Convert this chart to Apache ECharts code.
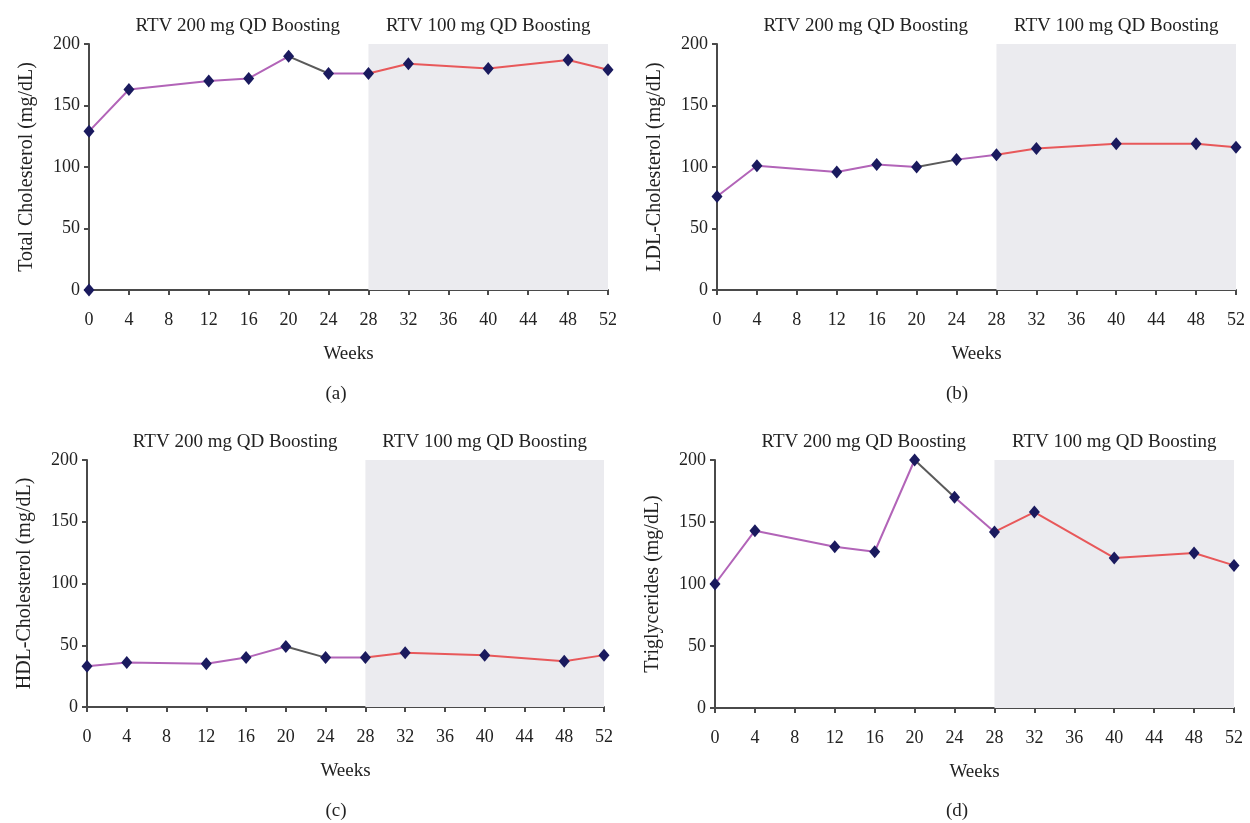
<!DOCTYPE html>
<html>
<head>
<meta charset="utf-8">
<script src="https://cdn.jsdelivr.net/npm/echarts@6/dist/echarts.min.js"></script>
<style>
html,body{margin:0;padding:0;background:#fff;}
#c{width:1250px;height:823px;}
</style>
</head>
<body>
<div id="c"></div>
<script>
// ---- data ----
const weeks = [0, 4, 12, 16, 20, 24, 28, 32, 40, 48, 52];
const totalChol = [129, 163, 170, 172, 190, 176, 176, 184, 180, 187, 179];
const ldlChol   = [76, 101, 96, 102, 100, 106, 110, 115, 119, 119, 116];
const hdlChol   = [33, 36, 35, 40, 49, 40, 40, 44, 42, 37, 42];
const triglyc   = [100, 143, 130, 126, 200, 170, 142, 158, 121, 125, 115];
const extraPointA = [[0, 0]];           // lone marker at origin in panel (a)
const xTicks = [0,4,8,12,16,20,24,28,32,36,40,44,48,52];
const yTicks = [0,50,100,150,200];
const phase1Label = 'RTV 200 mg QD Boosting';
const phase2Label = 'RTV 100 mg QD Boosting';
const phaseStart = 0, phaseSwitch = 28, phaseEnd = 52;
const yTitles = ['Total Cholesterol (mg/dL)', 'LDL-Cholesterol (mg/dL)', 'HDL-Cholesterol (mg/dL)', 'Triglycerides (mg/dL)'];
const panelTags = ['(a)', '(b)', '(c)', '(d)'];
const xTitle = 'Weeks';
// segment week ranges and colours
const segments = [
  {from: 0, to: 20, color: '#b264b8'},
  {from: 20, to: 24, color: '#5a5a5a'},
  {from: 24, to: 28, color: '#b264b8'},
  {from: 28, to: 52, color: '#e8585a'}
];

// ---- layout ----
const FONT = '"Liberation Serif", "Times New Roman", serif';
const grids = [
  {left: 89, top: 44, width: 519, height: 246},
  {left: 717, top: 44, width: 519, height: 246},
  {left: 87, top: 460, width: 517, height: 247},
  {left: 715, top: 460, width: 519, height: 248}
];
const tagPos = [[336, 385], [957, 385], [336, 802], [957, 802]];
const allData = [totalChol, ldlChol, hdlChol, triglyc];
const axisColor = '#4a4a4a';
const textColor = '#222';

const option = {
  backgroundColor: '#ffffff',
  animation: false,
  grid: grids.map(g => Object.assign({containLabel: false}, g)),
  xAxis: grids.map((g, i) => ({
    type: 'value', gridIndex: i, min: 0, max: 52, interval: 4,
    name: xTitle, nameLocation: 'middle', nameGap: 55,
    nameTextStyle: {fontFamily: FONT, fontSize: 19, color: textColor},
    axisLine: {onZero: false, lineStyle: {color: axisColor, width: 2}},
    axisTick: {show: true, length: 5, lineStyle: {color: axisColor, width: 2}},
    axisLabel: {fontFamily: FONT, fontSize: 18, color: textColor, margin: 21},
    splitLine: {show: false}
  })),
  yAxis: grids.map((g, i) => ({
    type: 'value', gridIndex: i, min: 0, max: 200, interval: 50,
    name: yTitles[i], nameLocation: 'middle', nameGap: 52,
    nameTextStyle: {fontFamily: FONT, fontSize: 20, color: textColor},
    axisLine: {show: true, lineStyle: {color: axisColor, width: 2}},
    axisTick: {show: true, length: 5, lineStyle: {color: axisColor, width: 2}},
    axisLabel: {fontFamily: FONT, fontSize: 18, color: textColor, margin: 9},
    splitLine: {show: false}
  })),
  series: [],
  graphic: panelTags.map((t, i) => ({
    type: 'text', x: tagPos[i][0], y: tagPos[i][1],
    style: {text: t, font: '19px ' + FONT, fill: textColor, textAlign: 'center', textVerticalAlign: 'top'}
  }))
};

allData.forEach((vals, i) => {
  const pts = weeks.map((w, k) => [w, vals[k]]);
  // shaded region + phase labels
  option.series.push({
    type: 'line', xAxisIndex: i, yAxisIndex: i, data: [], silent: true,
    markArea: {
      silent: true,
      data: [
        [{xAxis: phaseStart, itemStyle: {color: 'rgba(0,0,0,0)'},
          label: {show: true, position: 'top', distance: 8, offset: [9, 0], formatter: phase1Label,
                  fontFamily: FONT, fontSize: 19, color: textColor}},
         {xAxis: phaseSwitch}],
        [{xAxis: phaseSwitch, itemStyle: {color: '#ebebef'},
          label: {show: true, position: 'top', distance: 8, formatter: phase2Label,
                  fontFamily: FONT, fontSize: 19, color: textColor}},
         {xAxis: phaseEnd}]
      ]
    }
  });
  segments.forEach(s => {
    option.series.push({
      type: 'line', xAxisIndex: i, yAxisIndex: i, silent: true,
      data: pts.filter(p => p[0] >= s.from && p[0] <= s.to),
      showSymbol: false, symbol: 'none',
      lineStyle: {color: s.color, width: 2}, z: 3
    });
  });
  option.series.push({
    type: 'scatter', xAxisIndex: i, yAxisIndex: i, silent: true,
    data: i === 0 ? pts.concat(extraPointA) : pts,
    symbol: 'diamond', symbolSize: [11, 13],
    itemStyle: {color: '#1a1a5e', opacity: 1}, z: 5
  });
});

const chart = echarts.init(document.getElementById('c'), null, {renderer: 'canvas'});
chart.setOption(option);
</script>
</body>
</html>
